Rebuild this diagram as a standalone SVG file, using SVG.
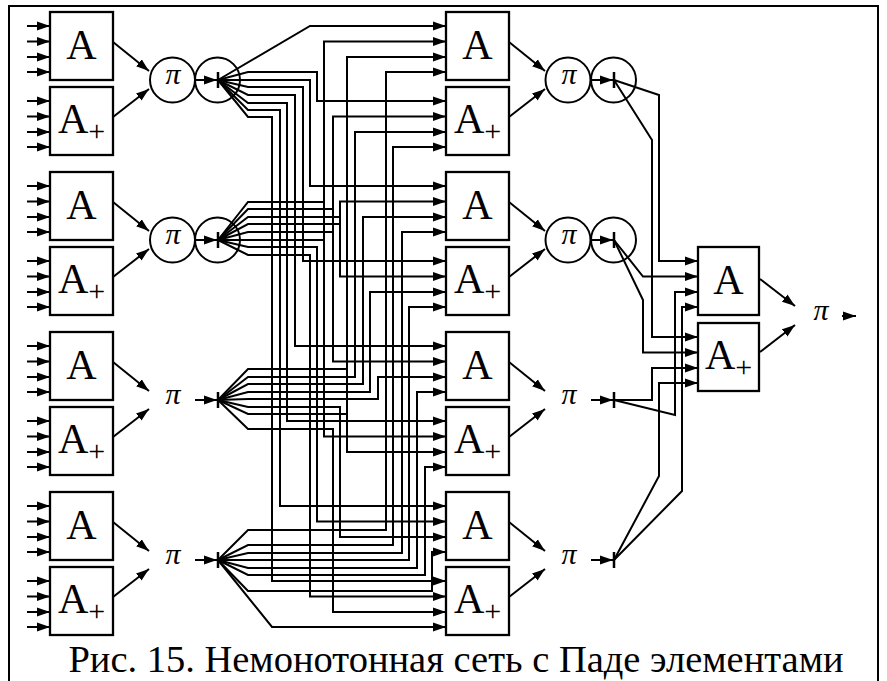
<svg xmlns="http://www.w3.org/2000/svg" width="887" height="681" viewBox="0 0 887 681">
<defs>
<marker id="ah" markerUnits="userSpaceOnUse" markerWidth="14" markerHeight="10" refX="13" refY="5" orient="auto"><path d="M0,0.5 L13,5 L0,9.5 z" fill="#000"/></marker>
<style>
.b{fill:#fff;stroke:#000;stroke-width:2.3}
.w{fill:none;stroke:#000;stroke-width:2}
.a{marker-end:url(#ah)}
.t{stroke:#000;stroke-width:2.5}
.A{font-family:"Liberation Serif","Times New Roman",serif;font-size:42px;fill:#000}
.p{font-family:"Liberation Serif","Times New Roman",serif;font-style:italic;font-size:30px;fill:#000}
.cap{font-family:"Liberation Serif","Times New Roman",serif;font-size:38.5px;fill:#000}
</style>
<g id="ins" class="w">
<path class="a" d="M27,26H50"/><path class="a" d="M27,41.5H50"/><path class="a" d="M27,57H50"/><path class="a" d="M27,72H50"/>
<path class="a" d="M27,101H50"/><path class="a" d="M27,116.5H50"/><path class="a" d="M27,132H50"/><path class="a" d="M27,147H50"/>
</g>
</defs>
<rect x="9" y="6" width="869" height="700" fill="#fff" stroke="#000" stroke-width="2"/>

<g id="connectors" class="w">
<!-- left inputs -->
<use href="#ins"/>
<use href="#ins" y="160"/>
<use href="#ins" y="320"/>
<use href="#ins" y="480"/>
<!-- block to pi -->
<g class="a">
<path d="M113,42L149,71"/><path d="M113,117L149,89"/>
<path d="M113,202L149,231"/><path d="M113,277L149,249"/>
<path d="M113,362L149,391"/><path d="M113,437L149,409"/>
<path d="M113,522L149,551"/><path d="M113,597L149,569"/>
<path d="M509,42L545,71"/><path d="M509,117L545,89"/>
<path d="M509,202L545,231"/><path d="M509,277L545,249"/>
<path d="M509,362L545,391"/><path d="M509,437L545,409"/>
<path d="M509,522L545,551"/><path d="M509,597L545,569"/>
<path d="M760,279L795,306"/><path d="M760,352L795,325"/>
<!-- pi to tick -->
<path d="M195,80H217"/><path d="M195,240H217"/><path d="M195,400H217"/><path d="M195,560H217"/>
<path d="M591,80H613"/><path d="M591,240H613"/><path d="M591,400H613"/><path d="M591,560H613"/>
<path d="M842,316H856"/>
</g>
<!-- fan 1 -->
<g class="a">
<path d="M218,80L310,26H446"/>
<path d="M218,80L248,72H317V101H446"/>
<path d="M218,80H310V186H446"/>
<path d="M218,80L248,87H303V261H446"/>
<path d="M218,80L248,95H295V346H446"/>
<path d="M218,80L248,103H287V421H446"/>
<path d="M218,80L248,110H280V506H446"/>
<path d="M218,80L248,117H272V581H446"/>
</g>
<!-- fan 2 -->
<g class="a">
<path d="M218,240L248,202H324V41.5H446"/>
<path d="M324,202V436.5H446"/>
<path d="M218,240L248,209H333V116.5H446"/>
<path d="M333,209V361.5H446"/>
<path d="M218,240L248,217H340V201.5H446"/>
<path d="M340,217V276.5H446"/>
<path d="M218,240L248,247H317V521.5H446"/>
<path d="M218,240L248,255H310V596.5H446"/>
</g>
<path d="M218,240L248,224H340M218,240L248,232H333M218,240H324"/>
<!-- fan 3 -->
<g class="a">
<path d="M218,400L248,369H347V57H446"/>
<path d="M347,369V452H446"/>
<path d="M218,400L248,377H355V132H446"/>
<path d="M218,400L248,384H363V217H446"/>
<path d="M218,400L248,392H370V292H446"/>
<path d="M218,400L248,399H378V377H446"/>
<path d="M218,400L248,407H340V537H446"/>
<path d="M218,400L248,429H333V612H446"/>
</g>
<path d="M218,400L248,414H347"/>
<!-- fan 4 -->
<g class="a">
<path d="M218,560L248,530H386V72H446"/>
<path d="M218,560L248,545H393V147H446"/>
<path d="M218,560L248,553H402V232H446"/>
<path d="M218,560H409V307H446"/>
<path d="M218,560L248,568H417V392H446"/>
<path d="M218,560L248,575H425V467H446"/>
<path d="M218,560L248,591H432V552H446"/>
<path d="M218,560L272,627H446"/>
</g>
<!-- to final -->
<g class="a">
<path d="M614,80L659,95V261H698"/>
<path d="M614,80L652,140V337H698"/>
<path d="M614,240L643,276.5H698"/>
<path d="M614,240L643,300V352.5H698"/>
<path d="M614,400H652V368H698"/>
<path d="M614,400L675,415V292H698"/>
<path d="M614,560L659,476V383H698"/>
<path d="M614,560L682,491V307H698"/>
</g>
</g>

<!-- left column blocks -->
<g id="L1-A"><rect class="b" x="50" y="12" width="63" height="68"/><text class="A" x="81.5" y="59" text-anchor="middle">A</text></g>
<g id="L1-Aplus"><rect class="b" x="50" y="87" width="63" height="68"/><text class="A" x="58" y="133">A<tspan font-size="30" dy="8">+</tspan></text></g>
<g id="L2-A" transform="translate(0,160)"><rect class="b" x="50" y="12" width="63" height="68"/><text class="A" x="81.5" y="59" text-anchor="middle">A</text></g>
<g id="L2-Aplus" transform="translate(0,160)"><rect class="b" x="50" y="87" width="63" height="68"/><text class="A" x="58" y="133">A<tspan font-size="30" dy="8">+</tspan></text></g>
<g id="L3-A" transform="translate(0,320)"><rect class="b" x="50" y="12" width="63" height="68"/><text class="A" x="81.5" y="59" text-anchor="middle">A</text></g>
<g id="L3-Aplus" transform="translate(0,320)"><rect class="b" x="50" y="87" width="63" height="68"/><text class="A" x="58" y="133">A<tspan font-size="30" dy="8">+</tspan></text></g>
<g id="L4-A" transform="translate(0,480)"><rect class="b" x="50" y="12" width="63" height="68"/><text class="A" x="81.5" y="59" text-anchor="middle">A</text></g>
<g id="L4-Aplus" transform="translate(0,480)"><rect class="b" x="50" y="87" width="63" height="68"/><text class="A" x="58" y="133">A<tspan font-size="30" dy="8">+</tspan></text></g>

<!-- left pi nodes -->
<g id="L1-pi"><circle class="w" cx="172.5" cy="80" r="22.5"/><text class="p" x="173" y="84" text-anchor="middle">π</text></g>
<g id="L1-out"><circle class="w" cx="217.5" cy="80" r="22.5"/><line class="t" x1="218" y1="72" x2="218" y2="88"/></g>
<g id="L2-pi"><circle class="w" cx="172.5" cy="240" r="22.5"/><text class="p" x="173" y="244" text-anchor="middle">π</text></g>
<g id="L2-out"><circle class="w" cx="217.5" cy="240" r="22.5"/><line class="t" x1="218" y1="232" x2="218" y2="248"/></g>
<g id="L3-pi"><text class="p" x="173" y="404" text-anchor="middle">π</text></g>
<g id="L3-out"><line class="t" x1="218" y1="392" x2="218" y2="408"/></g>
<g id="L4-pi"><text class="p" x="173" y="564" text-anchor="middle">π</text></g>
<g id="L4-out"><line class="t" x1="218" y1="552" x2="218" y2="568"/></g>

<!-- middle column blocks -->
<g id="M1-A" transform="translate(396,0)"><rect class="b" x="50" y="12" width="63" height="68"/><text class="A" x="81.5" y="59" text-anchor="middle">A</text></g>
<g id="M1-Aplus" transform="translate(396,0)"><rect class="b" x="50" y="87" width="63" height="68"/><text class="A" x="58" y="133">A<tspan font-size="30" dy="8">+</tspan></text></g>
<g id="M2-A" transform="translate(396,160)"><rect class="b" x="50" y="12" width="63" height="68"/><text class="A" x="81.5" y="59" text-anchor="middle">A</text></g>
<g id="M2-Aplus" transform="translate(396,160)"><rect class="b" x="50" y="87" width="63" height="68"/><text class="A" x="58" y="133">A<tspan font-size="30" dy="8">+</tspan></text></g>
<g id="M3-A" transform="translate(396,320)"><rect class="b" x="50" y="12" width="63" height="68"/><text class="A" x="81.5" y="59" text-anchor="middle">A</text></g>
<g id="M3-Aplus" transform="translate(396,320)"><rect class="b" x="50" y="87" width="63" height="68"/><text class="A" x="58" y="133">A<tspan font-size="30" dy="8">+</tspan></text></g>
<g id="M4-A" transform="translate(396,480)"><rect class="b" x="50" y="12" width="63" height="68"/><text class="A" x="81.5" y="59" text-anchor="middle">A</text></g>
<g id="M4-Aplus" transform="translate(396,480)"><rect class="b" x="50" y="87" width="63" height="68"/><text class="A" x="58" y="133">A<tspan font-size="30" dy="8">+</tspan></text></g>

<!-- middle pi nodes -->
<g id="M1-pi"><circle class="w" cx="568" cy="80" r="22.5"/><text class="p" x="569" y="84" text-anchor="middle">π</text></g>
<g id="M1-out"><circle class="w" cx="613.5" cy="80" r="22.5"/><line class="t" x1="614" y1="72" x2="614" y2="88"/></g>
<g id="M2-pi"><circle class="w" cx="568" cy="240" r="22.5"/><text class="p" x="569" y="244" text-anchor="middle">π</text></g>
<g id="M2-out"><circle class="w" cx="613.5" cy="240" r="22.5"/><line class="t" x1="614" y1="232" x2="614" y2="248"/></g>
<g id="M3-pi"><text class="p" x="569" y="404" text-anchor="middle">π</text></g>
<g id="M3-out"><line class="t" x1="614" y1="392" x2="614" y2="408"/></g>
<g id="M4-pi"><text class="p" x="569" y="564" text-anchor="middle">π</text></g>
<g id="M4-out"><line class="t" x1="614" y1="552" x2="614" y2="568"/></g>

<!-- final -->
<g id="F-A"><rect class="b" x="698" y="247" width="61" height="68"/><text class="A" x="728.5" y="294" text-anchor="middle">A</text></g>
<g id="F-Aplus"><rect class="b" x="698" y="323" width="61" height="68"/><text class="A" x="705" y="369">A<tspan font-size="30" dy="8">+</tspan></text></g>
<g id="F-pi"><text class="p" x="821" y="320" text-anchor="middle">π</text></g>

<text class="cap" x="456" y="672" text-anchor="middle">Рис. 15. Немонотонная сеть с Паде элементами</text>
</svg>
